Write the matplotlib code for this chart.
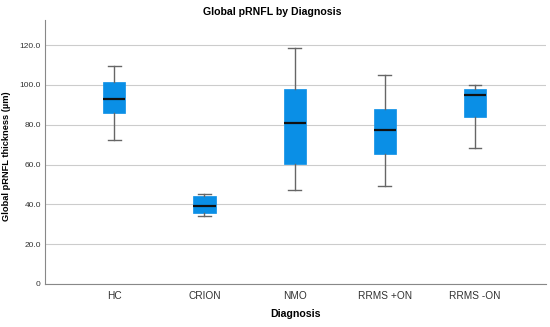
import matplotlib
matplotlib.use("Agg")
import matplotlib.pyplot as plt

plt.rcParams["font.family"] = ["Liberation Sans", "DejaVu Sans"]

categories = ["HC", "CRION", "NMO", "RRMS +ON", "RRMS -ON"]
whisker_low = [72.4, 34.3, 47.2, 49.4, 68.1]
q1 = [86.0, 35.5, 60.2, 65.3, 84.0]
median = [92.7, 39.3, 81.0, 77.6, 95.0]
q3 = [101.4, 44.2, 97.7, 88.0, 97.9]
whisker_high = [109.4, 45.2, 118.7, 104.9, 99.9]
yticks = [0, 20, 40, 60, 80, 100, 120]
ytick_labels = ["0", "20.0", "40.0", "60.0", "80.0", "100.0", "120.0"]

stats = []
for i, c in enumerate(categories):
    stats.append(dict(label=c, whislo=whisker_low[i], q1=q1[i], med=median[i],
                      q3=q3[i], whishi=whisker_high[i], fliers=[]))

fig = plt.figure(figsize=(5.5, 3.27), dpi=100)
ax = fig.add_axes([45/550, 1-284/327, (546-45)/550, (284-20)/327])

ax.bxp(stats, positions=list(range(len(categories))), widths=0.245,
       patch_artist=True, showfliers=False,
       boxprops=dict(facecolor="#0a8fe6", edgecolor="#0a8fe6", linewidth=0.5),
       medianprops=dict(color="#111111", linewidth=1.6),
       whiskerprops=dict(color="#666666", linewidth=1.0),
       capprops=dict(color="#666666", linewidth=1.0),
       capwidths=0.14, zorder=3)

ax.set_xlim(-0.77, 4.79)
ax.set_ylim(0, 132.6)
ax.set_yticks(yticks)
ax.set_yticklabels(ytick_labels, fontsize=6, color="#333333")
ax.set_xticks(range(len(categories)))
ax.set_xticklabels(categories, fontsize=7.3, color="#333333")
ax.tick_params(axis="y", length=0, pad=3)
ax.tick_params(axis="x", length=0, pad=5)
ax.yaxis.grid(True, color="#cccccc", linewidth=0.8)
ax.set_axisbelow(True)
for s in ["top", "right"]:
    ax.spines[s].set_visible(False)
for s in ["left", "bottom"]:
    ax.spines[s].set_color("#888888")
    ax.spines[s].set_linewidth(0.8)

fig.text(272/550, 1-12/327, "Global pRNFL by Diagnosis", fontsize=7.6,
         fontweight="bold", ha="center", va="center")
ax.set_xlabel("Diagnosis", fontsize=7.6, fontweight="bold", va="center")
ax.xaxis.set_label_coords(0.5, (284-314)/264)
ax.set_ylabel("Global pRNFL thickness (µm)", fontsize=6.7, fontweight="bold", va="center")
ax.yaxis.set_label_coords((7-45)/501, (284-156.5)/264)

fig.savefig("out.png", dpi=100)
